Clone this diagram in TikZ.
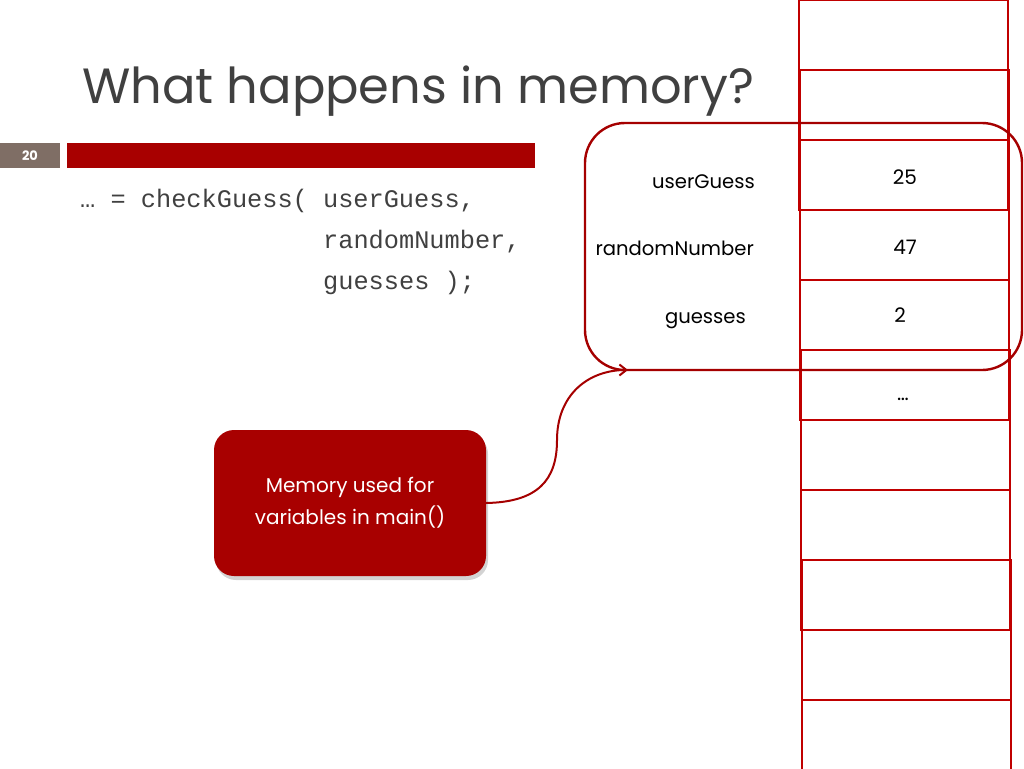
\documentclass[tikz,border=0pt]{standalone}
\usepackage{fontspec}
\setmainfont{Poppins}
\newfontfamily\codefont{Liberation Mono}
\usetikzlibrary{arrows.meta,shadows}
\definecolor{slidered}{HTML}{A80000}
\definecolor{cellred}{HTML}{C00000}
\definecolor{framered}{HTML}{A50000}
\definecolor{numgray}{HTML}{7F6E65}
\definecolor{txtgray}{HTML}{404040}
\tikzset{
  cellbg/.style={fill=white, drop shadow={shadow xshift=1pt, shadow yshift=-2pt, opacity=0.25}},
  cellline/.style={draw=cellred, line width=2.4pt},
  codeline/.style={anchor=base west, inner sep=0, text=txtgray, font=\codefont\fontsize{25.3}{30}\selectfont},
  varlabel/.style={anchor=base east, inner sep=0, text=black, font=\fontsize{19.6}{22}\selectfont},
  varvalue/.style={anchor=base, inner sep=0, text=black, font=\fontsize{20}{24}\selectfont},
}
\begin{document}
\begin{tikzpicture}[x=1pt,y=-1pt]
\useasboundingbox (0,0) rectangle (1024,768);
% title
\node[anchor=base west, inner sep=0, text=txtgray, font=\fontsize{49.5}{56}\selectfont] (title) at (82,103) {What happens in memory?};
% slide number bar
\node[fill=numgray, minimum width=60pt, minimum height=25pt, inner sep=0, text=white, font=\bfseries\fontsize{13}{15}\selectfont] (num) at (30,155.5) {20};
\node[fill=slidered, minimum width=468pt, minimum height=25pt, inner sep=0] (bar) at (301,155.5) {};
% code
\node[codeline] (c1) at (80,207) {… = checkGuess( userGuess,};
\node[codeline] (c2) at (323,248) {randomNumber,};
\node[codeline] (c3) at (323,289) {guesses );};
% memory column
\foreach \i in {0,...,10} {
  \pgfmathsetmacro{\yy}{\i*70}
  \pgfmathsetmacro{\xx}{799+0.3*\i}
  \path[cellbg] (\xx,\yy) rectangle ++(209,70);
}
\foreach \i in {0,...,10} {
  \pgfmathsetmacro{\yy}{\i*70}
  \pgfmathsetmacro{\xx}{799+0.3*\i}
  \draw[cellline] (\xx,\yy) rectangle ++(209,70);
}
% frame
\node[draw=framered, line width=2.4pt, rounded corners=40pt, minimum width=437pt, minimum height=247pt, inner sep=0] (frame) at (803.5,246.5) {};
\coordinate (frameentry) at (628,370);
% labels
\node[varlabel] (l1) at (755,188) {userGuess};
\node[varlabel] (l2) at (754,255) {randomNumber};
\node[varlabel] (l3) at (746,323) {guesses};
\node[varvalue] (v1) at (905,184) {25};
\node[varvalue] (v2) at (905,254) {47};
\node[varvalue] (v3) at (900,322) {2};
\node[varvalue] (v4) at (903,400) {…};
% memory box
\node[fill=slidered, rounded corners=20pt, minimum width=272pt, minimum height=146pt, inner sep=0, text=white, align=center, font=\fontsize{20}{32}\selectfont,
  drop shadow={shadow xshift=2pt, shadow yshift=-4pt, opacity=0.35}] (mem) at (350,503) {Memory used for\\variables in main()};
% connector
\draw[framered, line width=2pt, -{Straight Barb[length=7pt,width=11pt]}] (mem.east) .. controls (538,502) and (557,480) .. (557,440) .. controls (557,395) and (588,370) .. (frameentry);
\end{tikzpicture}
\end{document}
